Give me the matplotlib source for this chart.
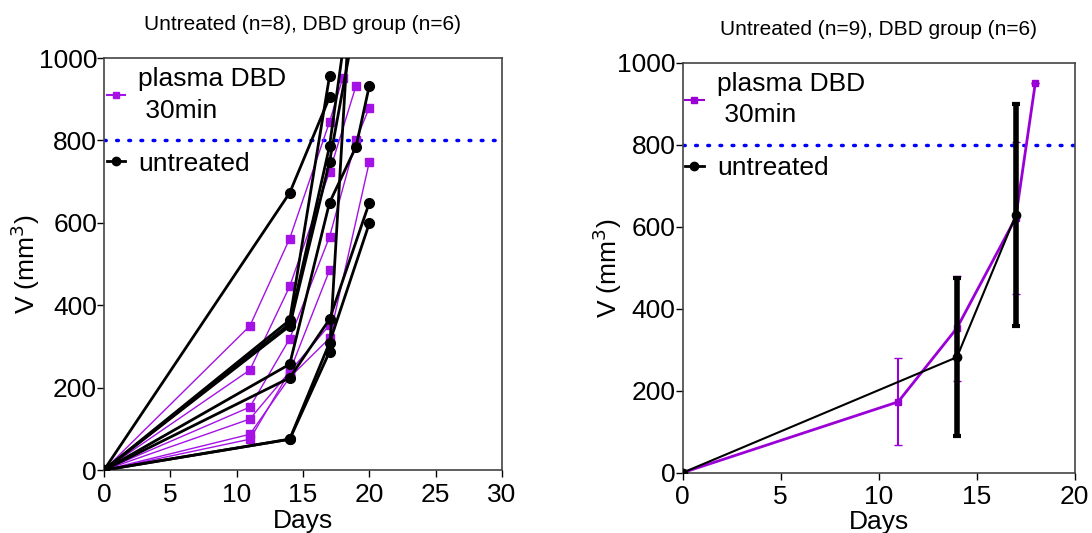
import numpy as np
import matplotlib
matplotlib.use("Agg")
import matplotlib.pyplot as plt
from matplotlib.lines import Line2D

plt.rcParams['font.family'] = ['Liberation Sans', 'DejaVu Sans']

# individual tumour volumes (mm3) per mouse, nan = not measured
dbd_days = [0, 11, 14, 17, 18, 19, 20]
dbd_mice = [
    [0, 350, 562, 845, 952, np.nan, np.nan],
    [0, 243, 446, 724, np.nan, 933, np.nan],
    [0, 153, 319, 566, np.nan, 801, 880],
    [0, 124, 239, 485, np.nan, np.nan, np.nan],
    [0, 87, 225, 320, np.nan, np.nan, 748],
    [0, 75, 239, 352, np.nan, np.nan, np.nan],
]

untr_days = [0, 14, 17, 19, 20]
untr_mice = [
    [0, 673, 905, np.nan, np.nan],
    [0, 364, 956, np.nan, np.nan],
    [0, 355, 786, 1250, np.nan],
    [0, 350, 748, 1100, np.nan],
    [0, 257, 649, 785, 933],
    [0, 224, 366, np.nan, 649],
    [0, 75, 309, np.nan, 599],
    [0, 75, 287, 1380, np.nan],
]

# group means and SD
dbd_mean_days = [0, 11, 14, 17, 18]
dbd_mean = [0, 173, 353, 622, 951]
dbd_sd = [0, 106, 128, 185, 0]

untr_mean_days = [0, 14, 17]
untr_mean = [0, 282, 628]
untr_sd = [0, 193, 271]

threshold = 800
purple = '#a412e6'
purple2 = '#9a00d6'

fig = plt.figure(figsize=(10.92, 5.33), dpi=100)
ax1 = fig.add_axes([0.0952, 0.118, 0.3645, 0.773])
ax2 = fig.add_axes([0.625, 0.113, 0.359, 0.769])


def style(ax, xmax, xlab_y, ylab_x):
    ax.set_xlim(0, xmax)
    ax.set_ylim(0, 1000)
    ax.set_yticks([0, 200, 400, 600, 800, 1000])
    ax.set_xticks(range(0, xmax + 1, 5))
    ax.tick_params(labelsize=19, length=5, width=1)
    ax.tick_params(axis='x', pad=4)
    ax.tick_params(axis='y', pad=0)
    for s in ax.spines.values():
        s.set_color('#444444')
        s.set_linewidth(1.2)
    ax.set_xlabel('Days', fontsize=19)
    ax.set_ylabel('V (mm$^3$)', fontsize=19)
    ax.xaxis.set_label_coords(0.5, xlab_y)
    ax.yaxis.set_label_coords(ylab_x, 0.5)
    ax.axhline(threshold, color='#0000ff', linestyle=(0, (0.5, 3.0)),
               linewidth=2.5, dash_capstyle='round', zorder=1)


# left: individual curves
for vals in dbd_mice:
    v = np.array(vals, dtype=float)
    d = np.array(dbd_days)
    m = ~np.isnan(v)
    ax1.plot(d[m], v[m], color=purple, linewidth=1, marker='s',
             markersize=5.5, zorder=2)
for vals in untr_mice:
    v = np.array(vals, dtype=float)
    d = np.array(untr_days)
    m = ~np.isnan(v)
    ax1.plot(d[m], v[m], color='black', linewidth=2, marker='o',
             markersize=7, zorder=3)
style(ax1, 30, -0.095, -0.156)
ax1.set_title('Untreated (n=8), DBD group (n=6)', fontsize=15, pad=20)

# right: mean +- SD
ax2.errorbar(dbd_mean_days, dbd_mean, yerr=dbd_sd, color=purple2, linewidth=2,
             marker='s', markersize=5, capsize=3, elinewidth=1.5, zorder=2)
ax2.errorbar(untr_mean_days, untr_mean, yerr=untr_sd, color='black', linewidth=1.5,
             marker='o', markersize=6, capsize=3, elinewidth=4, capthick=3, zorder=3)
style(ax2, 20, -0.09, -0.15)
ax2.set_title('Untreated (n=9), DBD group (n=6)', fontsize=15, pad=20)

for ax, col in [(ax1, purple), (ax2, purple2)]:
    handles = [
        Line2D([], [], color=col, linewidth=1.5, marker='s', markersize=5),
        Line2D([], [], color='black', linewidth=2, marker='o', markersize=6),
    ]
    leg = ax.legend(handles, ['plasma DBD\n 30min', 'untreated'], loc='upper left',
                    frameon=False, fontsize=19, handlelength=0.7, handletextpad=0.5,
                    labelspacing=1.1, borderpad=0.1, borderaxespad=0.0,
                    bbox_to_anchor=(0.0, 0.985))
    for t in leg.get_texts():
        t.set_linespacing(1.4)

fig.savefig('out.png', dpi=100)
